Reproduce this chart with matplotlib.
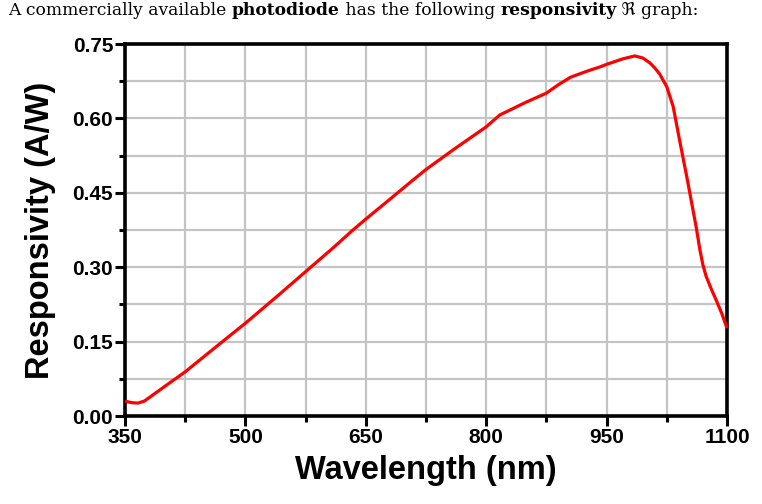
import numpy as np
import matplotlib
matplotlib.use("Agg")
import matplotlib.pyplot as plt
from matplotlib.ticker import FixedLocator

plt.rcParams["font.family"] = ["Liberation Sans", "DejaVu Sans"]

# responsivity curve
wavelength = [350, 358, 366, 374, 381, 393, 405, 425, 460, 493, 500, 540, 575, 610,
              634, 650, 680, 709, 725, 760, 800, 817, 850, 875, 890, 905, 925, 942,
              950, 970, 985, 995, 1004, 1010, 1016, 1025, 1033, 1041, 1050, 1056,
              1062, 1066, 1070, 1074, 1080, 1087, 1094, 1100]
resp = [0.030, 0.027, 0.026, 0.030, 0.038, 0.052, 0.066, 0.089, 0.135, 0.178, 0.187,
        0.242, 0.291, 0.340, 0.375, 0.397, 0.437, 0.476, 0.497, 0.538, 0.583, 0.607,
        0.633, 0.651, 0.668, 0.683, 0.695, 0.704, 0.709, 0.720, 0.726, 0.722, 0.712,
        0.702, 0.690, 0.664, 0.624, 0.556, 0.482, 0.430, 0.378, 0.338, 0.305, 0.282,
        0.258, 0.232, 0.205, 0.177]

xticks = [350, 500, 650, 800, 950, 1100]
yticks = [0.00, 0.15, 0.30, 0.45, 0.60, 0.75]
xminor = [425, 575, 725, 875, 1025]
yminor = [0.075, 0.225, 0.375, 0.525, 0.675]

fig = plt.figure(figsize=(7.62, 5.04), dpi=100)
ax = fig.add_axes([0.164, 0.1746, 0.790, 0.738])

ax.plot(wavelength, resp, color="#ff0000", lw=2.3, zorder=3, clip_on=False,
        solid_joinstyle="round", solid_capstyle="butt")

ax.set_xlim(350, 1100)
ax.set_ylim(0, 0.75)
ax.set_xticks(xticks)
ax.set_yticks(yticks)
ax.xaxis.set_minor_locator(FixedLocator(xminor))
ax.yaxis.set_minor_locator(FixedLocator(yminor))
ax.set_xticklabels([str(v) for v in xticks])
ax.set_yticklabels([f"{v:.2f}" for v in yticks])
ax.grid(which="both", color="#c4c4c4", lw=1.6, zorder=0)
ax.set_axisbelow(True)

for s in ax.spines.values():
    s.set_linewidth(2.6)
ax.tick_params(which="major", direction="out", length=7, width=2.2, pad=1.5,
               labelsize=15)
ax.tick_params(which="minor", direction="out", length=4.5, width=2.2)
for lab in ax.get_xticklabels() + ax.get_yticklabels():
    lab.set_fontweight("bold")

ax.set_xlabel("Wavelength (nm)", fontsize=23.5, fontweight="bold", labelpad=6)
ax.set_ylabel("Responsivity (A/W)", fontsize=23.5, fontweight="bold", labelpad=12)

# caption above the chart, mixed regular/bold serif
pieces = [("A commercially available ", "normal"), ("photodiode", "bold"),
          (" has the following ", "normal"), ("responsivity", "bold"),
          (" \u211c graph:", "normal")]
renderer = fig.canvas.get_renderer()
xpix = 8
for txt, w in pieces:
    t = fig.text(xpix / 762, 1 - 15 / 504, txt, fontsize=12.3, fontweight=w,
                 family=["DejaVu Serif", "DejaVu Sans"], va="baseline",
                 color="#000000")
    bb = t.get_window_extent(renderer)
    xpix += bb.width

fig.savefig("out.png", dpi=100)
